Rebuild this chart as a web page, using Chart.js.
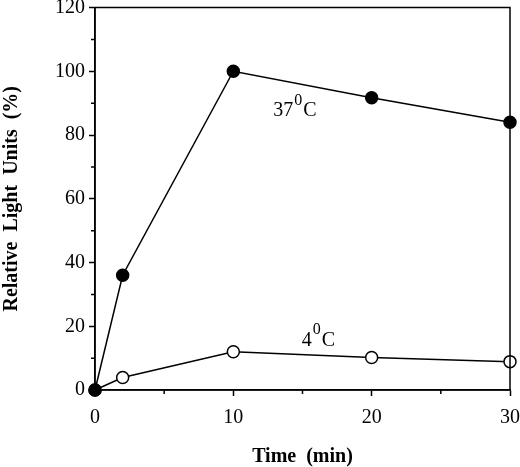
<!DOCTYPE html>
<html>
<head>
<meta charset="utf-8">
<script src="https://cdn.jsdelivr.net/npm/chart.js@4"></script>
<style>
  html, body { margin: 0; padding: 0; background: #fff; }
  #wrap { width: 520px; height: 467px; }
</style>
</head>
<body>
<div id="wrap"><canvas id="chart"></canvas></div>
<script>
const times = [0, 2, 10, 20, 30];
const warm = [0, 36, 100, 91.7, 84];     // 37 C
const cold = [0, 3.9, 12, 10.2, 8.9];    // 4 C
const xMinor = [5, 15, 25];
const yMinor = [10, 30, 50, 70, 90, 110];
const labels = [
  { base: "37", x: 13.6, y: 87.5 },
  { base: "4", x: 15.3, y: 15.6 }
];

const serif = "'Liberation Serif', 'DejaVu Serif', serif";

// box round the plot, minor ticks and the temperature labels
const extras = {
  id: "extras",
  afterDraw(chart) {
    const ctx = chart.ctx;
    const a = chart.chartArea;
    const xs = chart.scales.x, ys = chart.scales.y;
    ctx.save();
    ctx.strokeStyle = "#000";
    ctx.lineWidth = 1.5;
    ctx.strokeRect(a.left, a.top, a.right - a.left, a.bottom - a.top);
    ctx.beginPath();
    xMinor.forEach(v => {
      const px = xs.getPixelForValue(v);
      ctx.moveTo(px, a.bottom);
      ctx.lineTo(px, a.bottom + 4);
    });
    yMinor.forEach(v => {
      const py = ys.getPixelForValue(v);
      ctx.moveTo(a.left, py);
      ctx.lineTo(a.left - 4, py);
    });
    ctx.stroke();

    ctx.fillStyle = "#000";
    ctx.textBaseline = "middle";
    labels.forEach(l => {
      let px = xs.getPixelForValue(l.x);
      const py = ys.getPixelForValue(l.y);
      ctx.font = "20px " + serif;
      ctx.textAlign = "center";
      const w = ctx.measureText(l.base).width;
      ctx.fillText(l.base, px, py);
      px += w / 2 + 1;
      ctx.font = "16px " + serif;
      ctx.textAlign = "left";
      ctx.fillText("0", px, py - 10);
      px += ctx.measureText("0").width + 1;
      ctx.font = "20px " + serif;
      ctx.fillText("C", px, py);
    });
    ctx.restore();
  }
};

new Chart(document.getElementById("chart").getContext("2d"), {
  type: "line",
  data: {
    datasets: [
      {
        label: "37 C",
        data: times.map((t, i) => ({ x: t, y: warm[i] })),
        borderColor: "#000",
        borderWidth: 1.5,
        backgroundColor: "#000",
        pointBackgroundColor: "#000",
        pointBorderColor: "#000",
        pointBorderWidth: 1.5,
        pointRadius: 6,
        tension: 0,
        clip: false
      },
      {
        label: "4 C",
        data: times.map((t, i) => ({ x: t, y: cold[i] })),
        borderColor: "#000",
        borderWidth: 1.5,
        backgroundColor: "#fff",
        pointBackgroundColor: "#fff",
        pointBorderColor: "#000",
        pointBorderWidth: 1.5,
        pointRadius: 6,
        tension: 0,
        clip: false
      }
    ]
  },
  options: {
    responsive: true,
    maintainAspectRatio: false,
    animation: false,
    layout: { padding: { top: 6, right: 10, left: 0, bottom: 0 } },
    plugins: {
      legend: { display: false },
      tooltip: { enabled: false }
    },
    scales: {
      x: {
        type: "linear",
        min: 0,
        max: 30,
        ticks: {
          stepSize: 10,
          color: "#000",
          padding: 11,
          maxRotation: 0,
          font: { family: serif, size: 20, lineHeight: 1.1 }
        },
        grid: {
          drawOnChartArea: false,
          drawTicks: true,
          tickLength: 6,
          tickColor: "#000",
          tickWidth: 1.5
        },
        border: { display: true, color: "#000", width: 1.5 },
        title: {
          display: true,
          text: "Time  (min)",
          color: "#000",
          padding: { top: 18, bottom: -2 },
          font: { family: serif, size: 20, weight: "bold" }
        },
        afterFit: s => { s.height = 77; s.paddingRight = 0; }
      },
      y: {
        min: 0,
        max: 120,
        ticks: {
          stepSize: 20,
          color: "#000",
          padding: 4,
          font: { family: serif, size: 20, lineHeight: 0.5 }
        },
        grid: {
          drawOnChartArea: false,
          drawTicks: true,
          tickLength: 6,
          tickColor: "#000",
          tickWidth: 1.5
        },
        border: { display: true, color: "#000", width: 1.5 },
        title: {
          display: true,
          text: "Relative  Light  Units  (%)",
          color: "#000",
          padding: { top: 0, bottom: 10 },
          font: { family: serif, size: 20, weight: "bold" }
        },
        afterFit: s => { s.width = 95; s.paddingTop = 0; }
      }
    }
  },
  plugins: [extras]
});
</script>
</body>
</html>
